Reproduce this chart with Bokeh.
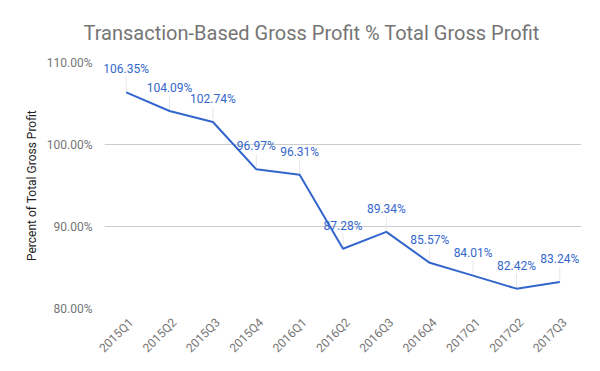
import math
from bokeh.plotting import figure
from bokeh.models import (FixedTicker, PrintfTickFormatter, ColumnDataSource,
                          LinearAxis, Range1d)
from bokeh.core.properties import value
from bokeh.embed import file_html
from bokeh.resources import INLINE

quarters = ["2015Q1", "2015Q2", "2015Q3", "2015Q4", "2016Q1", "2016Q2",
            "2016Q3", "2016Q4", "2017Q1", "2017Q2", "2017Q3"]
profit_pct = [106.35, 104.09, 102.74, 96.97, 96.31, 87.28,
              89.34, 85.57, 84.01, 82.42, 83.24]
y_ticks = [80, 90, 100, 110]

FONT = "Roboto"
BLUE = "#3366cc"
GRAY = "#757575"

n = len(quarters)
idx = list(range(n))
plot_h = 246.0
stem_units = 15.0 * (110 - 80) / plot_h
label_shift = 5.0 / 43.4  # shift x tick labels ~5px right (in category units)

src = ColumnDataSource(dict(
    x=idx,
    v=profit_pct,
    top=[v + stem_units for v in profit_pct],
    lab=["%.2f%%" % v for v in profit_pct],
))

p = figure(width=600, height=371, x_range=Range1d(-0.5, n - 0.5), y_range=(80, 110),
           output_backend="svg", toolbar_location=None, x_axis_location=None,
           min_border_left=104, min_border_right=19,
           min_border_top=62, min_border_bottom=63)

p.title.text = "Transaction-Based Gross Profit % Total Gross Profit"
p.title.align = "left"
p.title.offset = -21
p.title.standoff = 36
p.title.text_font = FONT
p.title.text_font_size = "20px"
p.title.text_font_style = "normal"
p.title.text_color = GRAY

p.outline_line_color = None
p.xgrid.grid_line_color = None
p.ygrid.grid_line_color = "#cccccc"
p.ygrid.grid_line_width = 1

p.extra_x_ranges = {"lab": Range1d(start=-0.5 - label_shift, end=n - 0.5 - label_shift)}
xaxis = LinearAxis(x_range_name="lab",
                   ticker=FixedTicker(ticks=idx),
                   major_label_overrides={i: q for i, q in enumerate(quarters)})
p.add_layout(xaxis, "below")

p.yaxis.ticker = FixedTicker(ticks=y_ticks)
p.yaxis.formatter = PrintfTickFormatter(format="%.2f%%")
p.yaxis.axis_label = "Percent of Total Gross Profit"
p.yaxis.axis_label_text_font = FONT
p.yaxis.axis_label_text_font_size = "12px"
p.yaxis.axis_label_text_font_style = "normal"
p.yaxis.axis_label_text_color = "#222222"

for ax in (xaxis, p.yaxis[0]):
    ax.axis_line_color = None
    ax.major_tick_line_color = None
    ax.minor_tick_line_color = None
    ax.major_label_text_font = FONT
    ax.major_label_text_font_size = "12px"
    ax.major_label_text_color = GRAY
    ax.major_label_standoff = 6

xaxis.major_label_orientation = math.pi / 4

p.segment(x0="x", y0="v", x1="x", y1="top", source=src,
          line_color="#e6e6e6", line_width=1)
p.line(x="x", y="v", source=src, line_color=BLUE, line_width=2)
p.text(x="x", y="v", text="lab", source=src, y_offset=-23,
       text_align="center", text_baseline="middle",
       text_font=value(FONT), text_font_size="12px", text_color=BLUE)

open("out.html", "w").write(file_html(p, INLINE))
